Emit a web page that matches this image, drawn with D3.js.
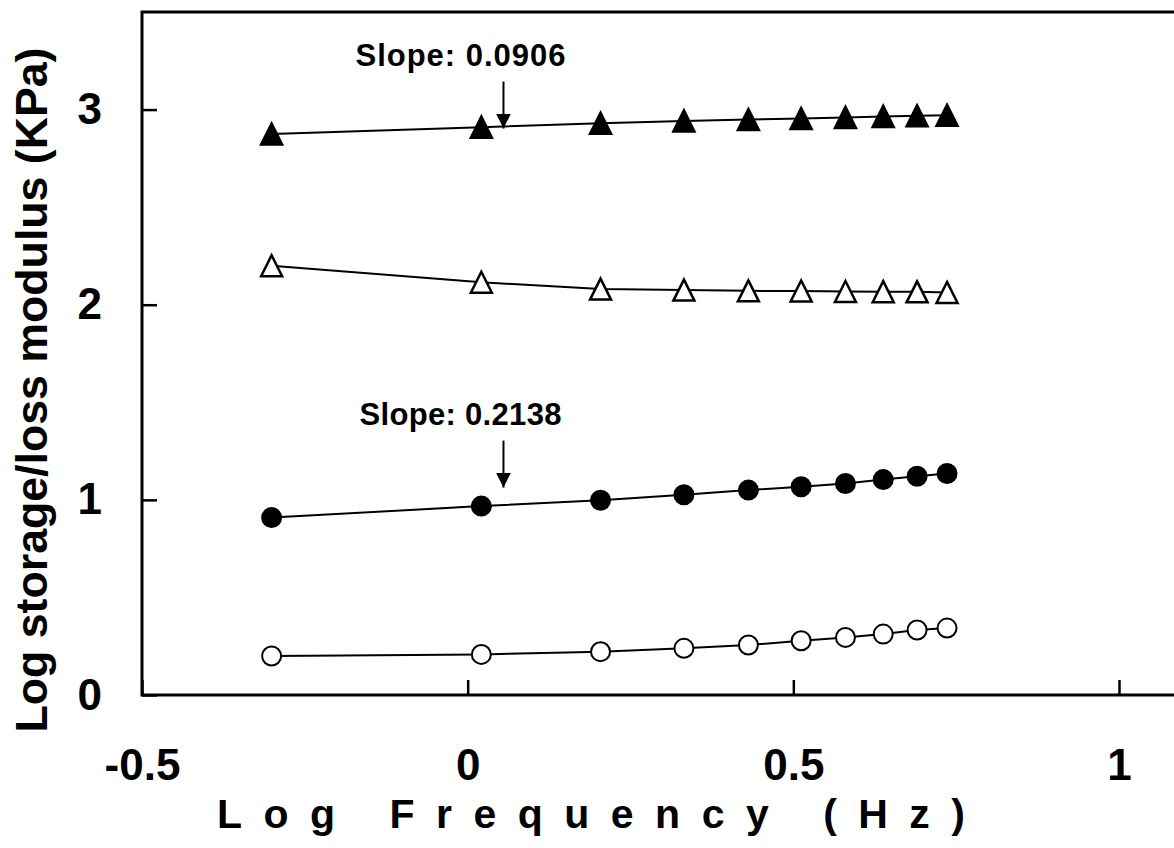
<!DOCTYPE html>
<html>
<head>
<meta charset="utf-8">
<script src="https://cdn.jsdelivr.net/npm/d3@7"></script>
<style>
  body { margin: 0; background: #fff; }
  svg { display: block; }
</style>
</head>
<body>
<svg width="1174" height="848"></svg>
<script>
// log frequency (Hz) of each measurement
var logFreq = [-0.301, 0.021, 0.204, 0.332, 0.431, 0.512, 0.580, 0.638, 0.690, 0.736];

// log modulus values
var storageTri = [2.875, 2.910, 2.930, 2.942, 2.949, 2.954, 2.960, 2.965, 2.968, 2.971]; // filled triangles
var lossTri = [2.200, 2.115, 2.080, 2.075, 2.071, 2.070, 2.068, 2.067, 2.066, 2.063];    // open triangles
var storageCirc = [0.909, 0.968, 0.998, 1.026, 1.050, 1.067, 1.084, 1.104, 1.121, 1.135]; // filled circles
var lossCirc = [0.200, 0.208, 0.222, 0.239, 0.256, 0.278, 0.295, 0.312, 0.333, 0.343];    // open circles

var xTicks = [-0.5, 0, 0.5, 1];
var yTicks = [0, 1, 2, 3];

var notes = [
  { text: 'Slope: 0.0906', x: 0.055, y: 3.20, len: 210 },
  { text: 'Slope: 0.2138', x: 0.055, y: 1.36, len: 202 }
];

var series = [
  { values: storageTri, shape: 'tri', fill: '#000' },
  { values: lossTri, shape: 'tri', fill: '#fff' },
  { values: storageCirc, shape: 'circ', fill: '#000' },
  { values: lossCirc, shape: 'circ', fill: '#fff' }
];

var svg = d3.select('svg');
var font = 'Arial, "Liberation Sans", sans-serif';

var xScale = d3.scaleLinear().domain([-0.5, 1]).range([142, 1119]);
var yScale = d3.scaleLinear().domain([0, 3.5]).range([695, 12]);

// frame (right side runs off the picture)
svg.append('rect')
  .attr('x', xScale(-0.5))
  .attr('y', yScale(3.5))
  .attr('width', 1200)
  .attr('height', yScale(0) - yScale(3.5))
  .style('fill', 'none')
  .style('stroke', '#000')
  .style('stroke-width', 3);

// axes with inward ticks
var gx = svg.append('g')
  .attr('transform', 'translate(0,' + yScale(0) + ')')
  .call(d3.axisBottom(xScale).tickValues(xTicks).tickFormat(function (d) { return String(d); })
    .tickSizeInner(-15).tickSizeOuter(0).tickPadding(54));

var gy = svg.append('g')
  .attr('transform', 'translate(' + xScale(-0.5) + ',0)')
  .call(d3.axisLeft(yScale).tickValues(yTicks).tickFormat(function (d) { return String(d); })
    .tickSizeInner(-15).tickSizeOuter(0).tickPadding(40));

[gx, gy].forEach(function (g) {
  g.select('.domain').remove();
  g.selectAll('.tick line').style('stroke', '#000').style('stroke-width', 2.5);
  g.selectAll('.tick text')
    .style('font-family', font)
    .style('font-weight', 'bold')
    .style('font-size', '44px')
    .style('fill', '#000');
});

// axis titles
svg.append('text')
  .attr('x', 591)
  .attr('y', 828)
  .attr('text-anchor', 'middle')
  .attr('textLength', 748)
  .attr('lengthAdjust', 'spacing')
  .style('font-family', font)
  .style('font-weight', 'bold')
  .style('font-size', '41px')
  .text('Log Frequency (Hz)');

svg.append('text')
  .attr('text-anchor', 'middle')
  .attr('transform', 'translate(47,390)rotate(-90)')
  .attr('textLength', 685)
  .attr('lengthAdjust', 'spacingAndGlyphs')
  .style('font-family', font)
  .style('font-weight', 'bold')
  .style('font-size', '44px')
  .text('Log storage/loss modulus (KPa)');

// lines and markers
var line = d3.line()
  .x(function (d) { return xScale(d[0]); })
  .y(function (d) { return yScale(d[1]); });

series.forEach(function (s) {
  var pts = logFreq.map(function (f, i) { return [f, s.values[i]]; });

  svg.append('path')
    .datum(pts)
    .attr('d', line)
    .style('fill', 'none')
    .style('stroke', '#000')
    .style('stroke-width', 2);

  var g = svg.append('g');
  if (s.shape === 'circ') {
    g.selectAll('circle')
      .data(pts)
      .enter()
      .append('circle')
      .attr('cx', function (d) { return xScale(d[0]); })
      .attr('cy', function (d) { return yScale(d[1]); })
      .attr('r', 9.5)
      .style('fill', s.fill)
      .style('stroke', '#000')
      .style('stroke-width', 2);
  } else {
    g.selectAll('path')
      .data(pts)
      .enter()
      .append('path')
      .attr('d', 'M0,-10.5L10.5,10.5L-10.5,10.5Z')
      .attr('transform', function (d) { return 'translate(' + xScale(d[0]) + ',' + yScale(d[1]) + ')'; })
      .style('fill', s.fill)
      .style('stroke', '#000')
      .style('stroke-width', 2.5);
  }
});

// slope annotations with arrows
svg.append('defs').append('marker')
  .attr('id', 'head')
  .attr('viewBox', '0 0 10 10')
  .attr('refX', 10)
  .attr('refY', 5)
  .attr('markerWidth', 15)
  .attr('markerHeight', 15)
  .attr('markerUnits', 'userSpaceOnUse')
  .attr('orient', 'auto')
  .append('path')
  .attr('d', 'M0,0L10,5L0,10Z')
  .style('fill', '#000');

notes.forEach(function (n) {
  var ax = xScale(n.x);
  var top = yScale(n.y);
  svg.append('text')
    .attr('x', ax - 43)
    .attr('y', top - 5)
    .attr('text-anchor', 'middle')
    .attr('textLength', n.len)
    .attr('lengthAdjust', 'spacing')
    .style('font-family', font)
    .style('font-weight', 'bold')
    .style('font-size', '31px')
    .text(n.text);

  svg.append('line')
    .attr('x1', ax)
    .attr('x2', ax)
    .attr('y1', top + 11)
    .attr('y2', top + 58)
    .attr('marker-end', 'url(#head)')
    .style('stroke', '#000')
    .style('stroke-width', 2);
});
</script>
</body>
</html>
